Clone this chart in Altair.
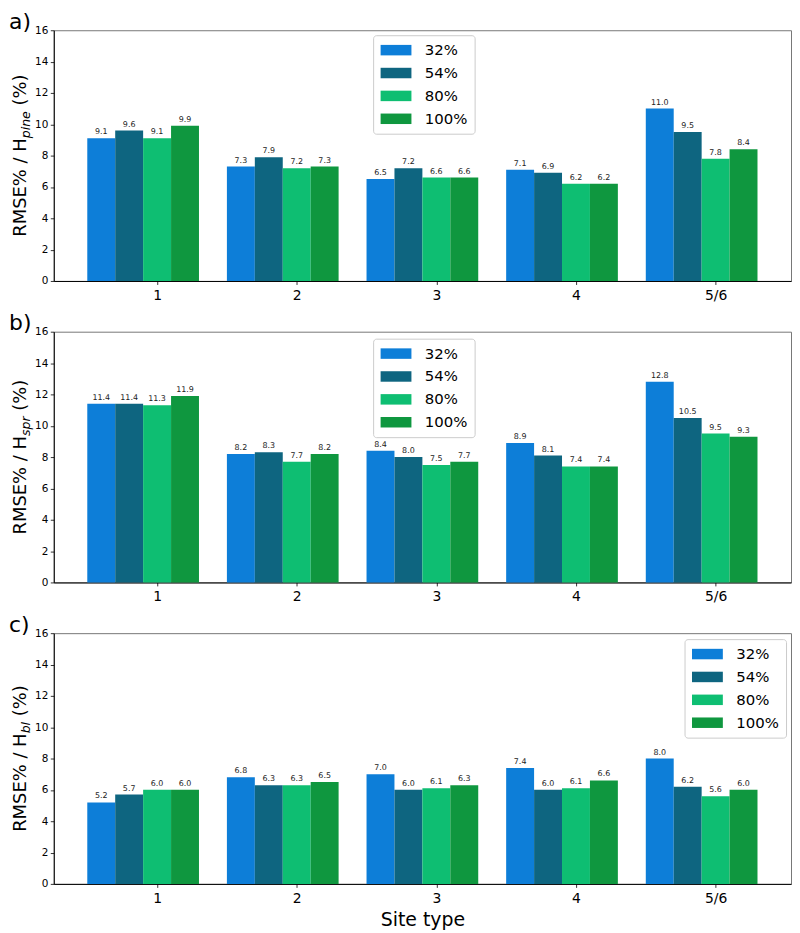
import altair as alt
import pandas as pd

FONT = "DejaVu Sans"

sites = ["1", "2", "3", "4", "5/6"]
site_pos = [1, 2, 3, 4, 5]
series = ["32%", "54%", "80%", "100%"]
colors = ["#0D7ED8", "#0E6580", "#0EBE72", "#0F973F"]

a_32 = [9.1, 7.3, 6.5, 7.1, 11.0]
a_54 = [9.6, 7.9, 7.2, 6.9, 9.5]
a_80 = [9.1, 7.2, 6.6, 6.2, 7.8]
a_100 = [9.9, 7.3, 6.6, 6.2, 8.4]

b_32 = [11.4, 8.2, 8.4, 8.9, 12.8]
b_54 = [11.4, 8.3, 8.0, 8.1, 10.5]
b_80 = [11.3, 7.7, 7.5, 7.4, 9.5]
b_100 = [11.9, 8.2, 7.7, 7.4, 9.3]

c_32 = [5.2, 6.8, 7.0, 7.4, 8.0]
c_54 = [5.7, 6.3, 6.0, 6.0, 6.2]
c_80 = [6.0, 6.3, 6.1, 6.1, 5.6]
c_100 = [6.0, 6.5, 6.3, 6.6, 6.0]

y_ticks = [0, 2, 4, 6, 8, 10, 12, 14, 16]

W = 741
H = 252

# DejaVu Sans advance widths (units per em 2048) for laying out the title pieces
ADV = {"R": 1423, "M": 1767, "S": 1300, "E": 1294, "%": 1946, " ": 651, "/": 690,
       "H": 1540, "(": 799, ")": 799, "p": 1300, "i": 569, "n": 1298, "e": 1260,
       "s": 1067, "r": 842, "b": 1300, "l": 569}


def tw(s, size):
    return sum(ADV.get(c, 1200) for c in s) / 2048.0 * size


def txt(text, x, y, size, italic=False, angle=270, align="left", baseline="alphabetic"):
    return alt.Chart(pd.DataFrame({"t": [text]})).mark_text(
        text=text, angle=angle, align=align, baseline=baseline, fontSize=size,
        font=FONT, fontStyle="italic" if italic else "normal", color="black"
    ).encode(x=alt.value(x), y=alt.value(y))


def panel(vals, letter, sub, legend_xy, last):
    rows = []
    for si, s in enumerate(series):
        for gi, site in enumerate(sites):
            rows.append({"site": site, "pos": site_pos[gi], "series": s,
                         "sidx": si, "value": vals[si][gi]})
    df = pd.DataFrame(rows)
    base = alt.Chart(df).transform_calculate(
        xc="datum.pos + (datum.sidx - 2) * 0.2",
        x0="datum.pos + (datum.sidx - 2) * 0.2 - 0.1",
        x1="datum.pos + (datum.sidx - 2) * 0.2 + 0.1",
    )
    xscale = alt.Scale(domain=[0.26, 5.54], nice=False, zero=False)
    yscale = alt.Scale(domain=[0, 16], nice=False)
    xaxis_kw = dict(values=site_pos,
                    labelExpr="datum.value == 5 ? '5/6' : format(datum.value, 'd')",
                    labelFontSize=14, tickSize=3.5, labelPadding=4, grid=False,
                    labelOverlap=False)
    if last:
        xaxis = alt.Axis(title="Site type", titleFontSize=19, titleFontWeight="normal",
                         titlePadding=5, titleFont=FONT, **xaxis_kw)
    else:
        xaxis = alt.Axis(title=None, **xaxis_kw)
    yaxis = alt.Axis(title=None, values=y_ticks, tickCount=9, labelFontSize=10.5,
                     tickSize=3.5, labelPadding=2.5, grid=False, labelOverlap=False,
                     labelFlush=False)
    legend = alt.Legend(title=None, orient="none", legendX=legend_xy[0], legendY=legend_xy[1],
                        symbolType="M-2,-0.68H2V0.68H-2Z", symbolSize=240,
                        symbolOffset=8,
                        symbolStrokeWidth=0, symbolOpacity=1,
                        labelFontSize=15, labelFont=FONT, labelColor="black",
                        padding=7, rowPadding=7, labelOffset=21,
                        strokeColor="#cccccc", fillColor="rgba(255,255,255,0.8)",
                        cornerRadius=3)
    bars = base.mark_rect().encode(
        x=alt.X("x0:Q", scale=xscale, axis=xaxis),
        x2="x1:Q",
        y=alt.Y("value:Q", scale=yscale, axis=yaxis),
        y2=alt.datum(0),
        color=alt.Color("series:N", scale=alt.Scale(domain=series, range=colors), legend=legend),
    )
    labels = base.mark_text(fontSize=8, baseline="bottom", dy=-2, font=FONT, color="#222222").encode(
        x=alt.X("xc:Q", scale=xscale, axis=xaxis),
        y=alt.Y("value:Q", scale=yscale, axis=yaxis),
        text=alt.Text("value:Q", format=".1f"),
    )
    # y-axis title with subscript, built from pieces
    fs, sfs = 18, 12.6
    p1, p3 = "RMSE% / H", "(%)"
    w1, w2, wsp, w3 = tw(p1, fs), tw(sub, sfs), tw(" ", fs), tw(p3, fs)
    total = w1 + w2 + wsp + w3
    y0 = H / 2 + total / 2
    t1 = txt(p1, -28, y0, fs)
    t2 = txt(sub, -24, y0 - w1, sfs, italic=True)
    t3 = txt(p3, -28, y0 - w1 - w2 - wsp, fs)
    lab = txt(letter, -45, -1.5, 22, angle=0)
    return alt.layer(bars, labels, t1, t2, t3, lab).properties(width=W, height=H)


pa = panel([a_32, a_54, a_80, a_100], "a)", "pine", (321, 5), False)
pb = panel([b_32, b_54, b_80, b_100], "b)", "spr", (321, 7), False)
pc = panel([c_32, c_54, c_80, c_100], "c)", "bl", (634, 6), True)

chart = alt.vconcat(pa, pb, pc, spacing=51, bounds="flush").resolve_legend(
    color="independent"
).properties(padding={"left": 0, "top": 0, "right": 0, "bottom": 0}).configure_view(
    stroke="#777777", strokeWidth=1
).configure_axis(
    domainColor="black", tickColor="black", labelColor="black", labelFont=FONT,
    titleColor="black", domainWidth=1, tickWidth=0.8
)

chart.save("out.html", embed_options={"renderer": "svg", "actions": False})
